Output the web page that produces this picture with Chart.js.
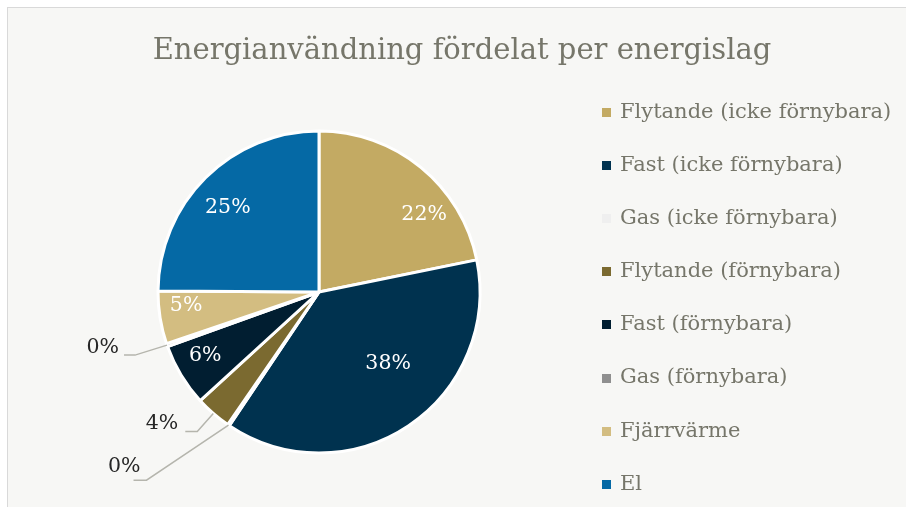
<!DOCTYPE html>
<html>
<head>
<meta charset="utf-8">
<script src="https://cdn.jsdelivr.net/npm/chart.js@4.4.1/dist/chart.umd.min.js"></script>
<style>
    html, body { margin: 0; padding: 0; background: #ffffff; overflow: hidden; }
    #wrap {
        position: absolute; left: 7px; top: 7px; width: 899px; height: 500px;
        border-left: 1px solid #d9d9d9; border-top: 1px solid #d9d9d9;
        background: #f7f7f5;
    }
    canvas { display: block; }
</style>
</head>
<body>
<div id="wrap"><canvas id="energyChart" width="898" height="499"></canvas></div>
<script>
const chartTitle = "Energianvändning fördelat per energislag";
const categories = [
    "Flytande (icke förnybara)",
    "Fast (icke förnybara)",
    "Gas (icke förnybara)",
    "Flytande (förnybara)",
    "Fast (förnybara)",
    "Gas (förnybara)",
    "Fjärrvärme",
    "El",
];
const shares = [21.8, 37.6, 0.2, 3.6, 6.3, 0.3, 5.3, 24.9];
const sliceColors = ["#c3aa63", "#00324f", "#efefef", "#7b6a30", "#011e31", "#8f8f8f", "#d3bd81", "#0569a5"];

const serif = "'DejaVu Serif', 'Liberation Serif', serif";
const textGray = "#76766a";

// inne i tårtbiten: radie-andel + vridning (grader); utanför: knäpunkt och textförskjutning
const labelPlacement = [
    { inside: true, r: 0.81, turn: 14.5 },
    { inside: true, r: 0.62, turn: -10 },
    { inside: false, elbow: [-82, 55], run: 13, text: [7, -13] },
    { inside: false, elbow: [-16, 18], run: 12, text: [-7, -8] },
    { inside: true, r: 0.81, turn: 1.8 },
    { inside: false, elbow: [-32, 10], run: 11, text: [-5, -7] },
    { inside: true, r: 0.83, turn: 3.2 },
    { inside: true, r: 0.77, turn: -2.5 },
];

const titleAndLegend = {
    id: "titleAndLegend",
    afterDraw(chart) {
        const ctx = chart.ctx;
        ctx.save();
        ctx.fillStyle = textGray;
        ctx.font = "29px " + serif;
        ctx.textAlign = "center";
        ctx.textBaseline = "middle";
        ctx.fillText(chartTitle, 454, 43);

        ctx.font = "21px " + serif;
        ctx.textAlign = "left";
        chart.data.labels.forEach((name, i) => {
            const y = 104.5 + i * 53.1;
            ctx.fillStyle = chart.data.datasets[0].backgroundColor[i];
            ctx.fillRect(594, Math.round(y - 4.5), 9, 9);
            ctx.fillStyle = textGray;
            ctx.fillText(name, 612, y);
        });
        ctx.restore();
    },
};

const sliceLabels = {
    id: "sliceLabels",
    afterDatasetsDraw(chart) {
        const ctx = chart.ctx;
        const data = chart.data.datasets[0].data;
        const total = data.reduce((a, b) => a + b, 0);
        const meta = chart.getDatasetMeta(0);
        ctx.save();
        ctx.font = "20.5px " + serif;
        ctx.textBaseline = "middle";
        meta.data.forEach((arc, i) => {
            const p = arc.getProps(["x", "y", "startAngle", "endAngle", "outerRadius"], true);
            const text = Math.round((data[i] / total) * 100) + "%";
            const place = labelPlacement[i];
            const mid = (p.startAngle + p.endAngle) / 2;
            if (place.inside) {
                const a = mid + (place.turn * Math.PI) / 180;
                const rr = p.outerRadius * place.r;
                ctx.fillStyle = "#ffffff";
                ctx.textAlign = "center";
                ctx.fillText(text, p.x + Math.cos(a) * rr, p.y + Math.sin(a) * rr);
            } else {
                const ex = p.x + Math.cos(mid) * p.outerRadius;
                const ey = p.y + Math.sin(mid) * p.outerRadius;
                const kx = ex + place.elbow[0];
                const ky = ey + place.elbow[1];
                ctx.strokeStyle = "#b5b5ad";
                ctx.lineWidth = 1.5;
                ctx.beginPath();
                ctx.moveTo(ex, ey);
                ctx.lineTo(kx, ky);
                ctx.lineTo(kx - place.run, ky);
                ctx.stroke();
                ctx.fillStyle = "#262626";
                ctx.textAlign = "right";
                ctx.fillText(text, kx - place.run + place.text[0], ky + place.text[1]);
            }
        });
        ctx.restore();
    },
};

new Chart(document.getElementById("energyChart"), {
    type: "pie",
    data: {
        labels: categories,
        datasets: [
            {
                data: shares,
                backgroundColor: sliceColors,
                borderColor: "#ffffff",
                borderWidth: 3,
            },
        ],
    },
    options: {
        responsive: false,
        animation: false,
        events: [],
        radius: 161,
        layout: { padding: { left: 0, right: 276, top: 80, bottom: 11 } },
        plugins: {
            legend: { display: false },
            title: { display: false },
            tooltip: { enabled: false },
        },
    },
    plugins: [sliceLabels, titleAndLegend],
});
</script>
</body>
</html>
